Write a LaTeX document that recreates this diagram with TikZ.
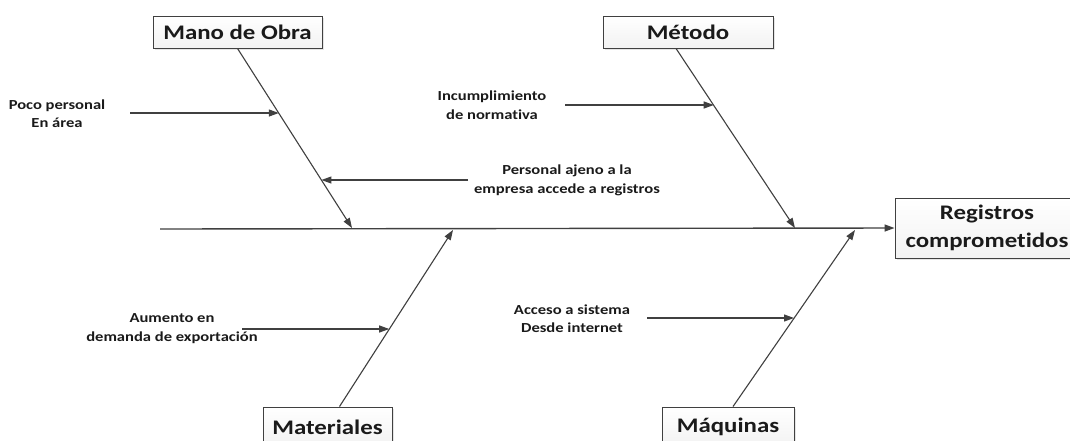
\documentclass[tikz,border=0pt]{standalone}
\usepackage{fontspec}
\newfontfamily\calib[FakeStretch=1.2,Ligatures=NoCommon]{Carlito}
\usetikzlibrary{arrows.meta,shadows,calc}

\definecolor{linea}{HTML}{404040}
\definecolor{texto}{HTML}{1A1A1A}

\tikzset{
  causa/.style={draw=linea, line width=0.9pt, top color=white, bottom color=black!5,
    text=texto, font=\calib\bfseries\fontsize{20.7}{28}\selectfont, align=center,
    minimum height=32pt, inner sep=0pt,
    drop shadow={shadow xshift=1.5pt, shadow yshift=-1.5pt, opacity=0.2}},
  efecto/.style={causa, minimum height=60pt},
  nota/.style={text=texto, font=\calib\bfseries\fontsize{13.8}{18.5}\selectfont, align=center, inner sep=0pt},
  hueso/.style={draw=linea, line width=1.1pt, -{Triangle[length=10pt,width=7pt]}},
  espina/.style={hueso, line width=1.4pt},
  flecha/.style={draw=linea, line width=1.1pt, -{Triangle[length=10pt,width=7pt]}}
}

\begin{document}
\begin{tikzpicture}[x=1pt,y=-1pt]
  \useasboundingbox[fill=white] (0,0) rectangle (1070,440);

  % categorias
  \node[causa, minimum width=169pt] (mano) at (237.5,32) {Mano de Obra};
  \node[causa, minimum width=170pt] (metodo) at (688,32) {Método};
  \node[causa, minimum width=129pt, minimum height=40pt] (mat) at (327.5,427) {Materiales};
  \node[causa, minimum width=132pt, minimum height=40pt] (maq) at (728,427) {Máquinas};
  \node[efecto, minimum width=184pt] (reg) at (987,228) {Registros\\comprometidos};

  % espina central
  \coordinate (cola) at (160,229);
  \draw[espina] (cola) -- (reg.west);

  % huesos
  \coordinate (m0) at (mano.south);
  \coordinate (m1) at (352,228);
  \coordinate (t0) at ([xshift=-12pt]metodo.south);
  \coordinate (t1) at (795,228);
  \coordinate (a0) at ([xshift=12pt]mat.north);
  \coordinate (a1) at (453,230);
  \coordinate (q0) at ([xshift=5pt]maq.north);
  \coordinate (q1) at (855,230);
  \draw[hueso] (m0) -- (m1);
  \draw[hueso] (t0) -- (t1);
  \draw[hueso] (a0) -- (a1);
  \draw[hueso] (q0) -- (q1);

  % subcausas
  \node[nota] (pp) at (57,113.5) {Poco personal\\En área};
  \node[nota] (pa) at (567,180.5) {Personal ajeno a la\\empresa accede a registros};
  \node[nota] (in) at (492,105) {Incumplimiento\\de normativa};
  \node[nota] (au) at (172,328.5) {Aumento en\\demanda de exportación};
  \node[nota] (ac) at (572,318.5) {Acceso a sistema\\Desde internet};

  \coordinate (s1) at (130,113);
  \coordinate (s2) at (468,180);
  \coordinate (s3) at (565,105);
  \coordinate (s4) at (242,329);
  \coordinate (s5) at (647,318);
  \coordinate (e1) at ($(m0)!0.361!(m1)$);
  \coordinate (e2) at ($(m0)!0.733!(m1)$);
  \coordinate (e3) at ($(t0)!0.317!(t1)$);
  \coordinate (e4) at ($(a0)!0.438!(a1)$);
  \coordinate (e5) at ($(q0)!0.5!(q1)$);
  \draw[flecha] (s1) -- (s1 -| e1);
  \draw[flecha] (s2) -- (s2 -| e2);
  \draw[flecha] (s3) -- (s3 -| e3);
  \draw[flecha] (s4) -- (s4 -| e4);
  \draw[flecha] (s5) -- (s5 -| e5);
\end{tikzpicture}
\end{document}
